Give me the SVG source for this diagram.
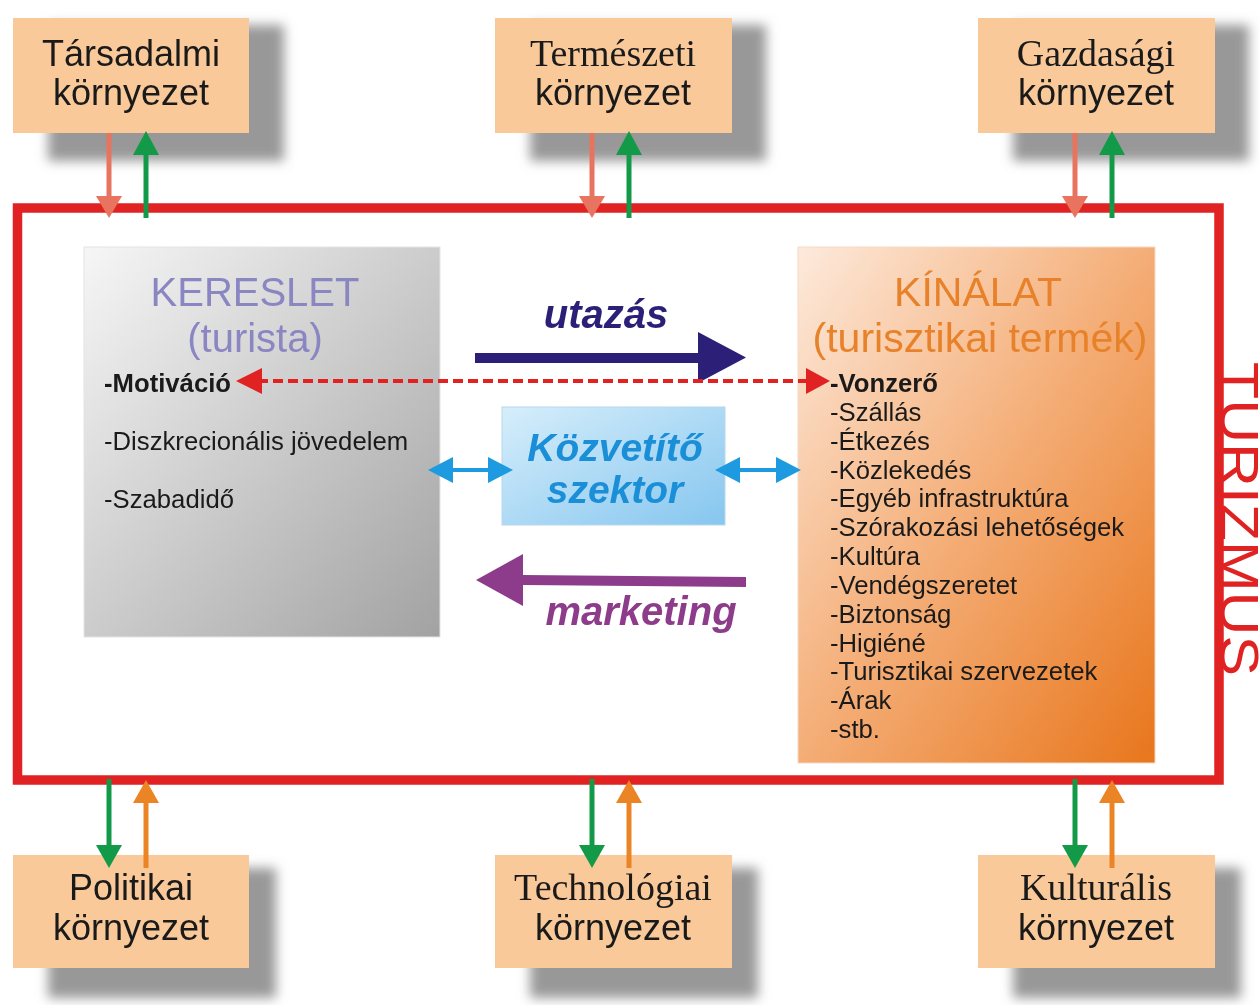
<svg xmlns="http://www.w3.org/2000/svg" width="1259" height="1005" viewBox="0 0 1259 1005">
<defs>
<style>
.sans{font-family:"Liberation Sans",Arial,sans-serif}
.serif{font-family:"Liberation Serif","Times New Roman",serif}
.env{fill:#f9c99a}
.envt{font-size:36px;fill:#1a1a1a;text-anchor:middle}
.serif.envt{font-size:38px}
.shadow{fill:#7e7e7e;opacity:.8}
.item{font-size:25.7px;fill:#1a1a1a}
.salmon{stroke:#e8735f;stroke-width:5;fill:none}
.salmonf{fill:#e8735f}
.green{stroke:#129a48;stroke-width:5;fill:none}
.greenf{fill:#129a48}
.orange{stroke:#ea8424;stroke-width:5;fill:none}
.orangef{fill:#ea8424}
.blue{stroke:#1e9ae0;stroke-width:4;fill:none}
.bluef{fill:#1e9ae0}
</style>
<filter id="blur" x="-20%" y="-20%" width="140%" height="140%"><feGaussianBlur stdDeviation="6"/></filter>
<linearGradient id="gGray" x1="0" y1="0" x2="1" y2="1">
<stop offset="0" stop-color="#f6f6f6"/><stop offset="1" stop-color="#a2a2a2"/>
</linearGradient>
<linearGradient id="gOrange" x1="0" y1="0" x2="1" y2="1">
<stop offset="0" stop-color="#fdeadc"/><stop offset="0.5" stop-color="#f4ad76"/><stop offset="1" stop-color="#e8761c"/>
</linearGradient>
<linearGradient id="gBlue" x1="0" y1="0" x2="1" y2="1">
<stop offset="0" stop-color="#d6eefb"/><stop offset="1" stop-color="#86c6ef"/>
</linearGradient>
</defs>
<rect width="1259" height="1005" fill="#ffffff"/>

<g id="turizmus">
<rect x="17.5" y="208" width="1201.5" height="572" fill="none" stroke="#e02222" stroke-width="9.5"/>
<text class="sans" transform="translate(1221,362) rotate(90)" font-size="53" fill="#e02222" textLength="314" lengthAdjust="spacingAndGlyphs">TURIZMUS</text>
</g>

<g id="shadows" filter="url(#blur)">
<rect class="shadow" x="48" y="25" width="236" height="136"/>
<rect class="shadow" x="530" y="25" width="236" height="136"/>
<rect class="shadow" x="1013" y="25" width="236" height="136"/>
<rect class="shadow" x="48" y="868" width="228" height="130"/>
<rect class="shadow" x="530" y="868" width="228" height="130"/>
<rect class="shadow" x="1013" y="868" width="228" height="130"/>
</g>

<g id="tarsadalmi">
<rect class="env" x="13" y="18" width="236" height="115"/>
<text class="sans envt" x="131" y="66">Társadalmi</text>
<text class="sans envt" x="131" y="105">környezet</text>
</g>
<g id="termeszeti">
<rect class="env" x="495" y="18" width="237" height="115"/>
<text class="serif envt" x="613" y="66">Természeti</text>
<text class="sans envt" x="613" y="105">környezet</text>
</g>
<g id="gazdasagi">
<rect class="env" x="978" y="18" width="237" height="115"/>
<text class="serif envt" x="1096" y="66">Gazdasági</text>
<text class="sans envt" x="1096" y="105">környezet</text>
</g>
<g id="politikai">
<rect class="env" x="13" y="855" width="236" height="113"/>
<text class="sans envt" x="131" y="900">Politikai</text>
<text class="sans envt" x="131" y="940">környezet</text>
</g>
<g id="technologiai">
<rect class="env" x="495" y="855" width="237" height="113"/>
<text class="serif envt" x="613" y="900">Technológiai</text>
<text class="sans envt" x="613" y="940">környezet</text>
</g>
<g id="kulturalis">
<rect class="env" x="978" y="855" width="237" height="113"/>
<text class="serif envt" x="1096" y="900">Kulturális</text>
<text class="sans envt" x="1096" y="940">környezet</text>
</g>

<g id="kereslet">
<rect x="84" y="247" width="356" height="390" fill="url(#gGray)" stroke="#e4e4e4" stroke-width="1"/>
<text class="sans" x="255" y="306" font-size="40" fill="#8a86c2" text-anchor="middle">KERESLET</text>
<text class="sans" x="255" y="352" font-size="40" fill="#8a86c2" text-anchor="middle">(turista)</text>
<text class="sans item" x="104" y="392" font-weight="bold">-Motiváció</text>
<text class="sans item" x="104" y="450">-Diszkrecionális jövedelem</text>
<text class="sans item" x="104" y="508">-Szabadidő</text>
</g>

<g id="kinalat">
<rect x="798" y="247" width="357" height="516" fill="url(#gOrange)" stroke="#f3d9c6" stroke-width="1"/>
<text class="sans" x="978" y="306" font-size="41" fill="#e8822a" text-anchor="middle">KÍNÁLAT</text>
<text class="sans" x="980" y="352" font-size="41" fill="#e8822a" text-anchor="middle">(turisztikai termék)</text>
<text class="sans item" x="830" y="392" font-weight="bold">-Vonzerő</text>
<text class="sans item" x="830" y="420.8">-Szállás</text>
<text class="sans item" x="830" y="449.7">-Étkezés</text>
<text class="sans item" x="830" y="478.5">-Közlekedés</text>
<text class="sans item" x="830" y="507.3">-Egyéb infrastruktúra</text>
<text class="sans item" x="830" y="536.2">-Szórakozási lehetőségek</text>
<text class="sans item" x="830" y="565">-Kultúra</text>
<text class="sans item" x="830" y="593.8">-Vendégszeretet</text>
<text class="sans item" x="830" y="622.7">-Biztonság</text>
<text class="sans item" x="830" y="651.5">-Higiéné</text>
<text class="sans item" x="830" y="680.3">-Turisztikai szervezetek</text>
<text class="sans item" x="830" y="709.2">-Árak</text>
<text class="sans item" x="830" y="738">-stb.</text>
</g>

<g id="kozvetito">
<rect x="502" y="407" width="223" height="118" fill="url(#gBlue)" stroke="#b8d8ec" stroke-width="1"/>
<text class="sans" x="615" y="461" font-size="39" font-weight="bold" font-style="italic" fill="#1a8fd8" text-anchor="middle">Közvetítő</text>
<text class="sans" x="615" y="503" font-size="39" font-weight="bold" font-style="italic" fill="#1a8fd8" text-anchor="middle">szektor</text>
</g>

<g id="labels">
<text class="sans" x="606" y="328" font-size="40" font-weight="bold" font-style="italic" fill="#2b1f78" text-anchor="middle">utazás</text>
<text class="sans" x="641" y="625" font-size="40" font-weight="bold" font-style="italic" fill="#8c3c8a" text-anchor="middle">marketing</text>
</g>

<g id="connectors">
<line class="salmon" x1="109" y1="133" x2="109" y2="198"/><polygon class="salmonf" points="96,196 122,196 109,218"/>
<line class="green" x1="146" y1="218" x2="146" y2="153"/><polygon class="greenf" points="133,155 159,155 146,131"/>
<line class="salmon" x1="592" y1="133" x2="592" y2="198"/><polygon class="salmonf" points="579,196 605,196 592,218"/>
<line class="green" x1="629" y1="218" x2="629" y2="153"/><polygon class="greenf" points="616,155 642,155 629,131"/>
<line class="salmon" x1="1075" y1="133" x2="1075" y2="198"/><polygon class="salmonf" points="1062,196 1088,196 1075,218"/>
<line class="green" x1="1112" y1="218" x2="1112" y2="153"/><polygon class="greenf" points="1099,155 1125,155 1112,131"/>
<line class="green" x1="109" y1="779" x2="109" y2="848"/><polygon class="greenf" points="96,845 122,845 109,868"/>
<line class="orange" x1="146" y1="868" x2="146" y2="800"/><polygon class="orangef" points="133,803 159,803 146,780"/>
<line class="green" x1="592" y1="779" x2="592" y2="848"/><polygon class="greenf" points="579,845 605,845 592,868"/>
<line class="orange" x1="629" y1="868" x2="629" y2="800"/><polygon class="orangef" points="616,803 642,803 629,780"/>
<line class="green" x1="1075" y1="779" x2="1075" y2="848"/><polygon class="greenf" points="1062,845 1088,845 1075,868"/>
<line class="orange" x1="1112" y1="868" x2="1112" y2="800"/><polygon class="orangef" points="1099,803 1125,803 1112,780"/>
<polygon fill="#2b1f78" points="475,353 698,353 698,332 746,357.5 698,383 698,363 475,363"/>
<polygon fill="#8c3c8a" points="746,577 746,587 523,585 523,606 476,580 523,554 523,575"/>
<line x1="258" y1="381" x2="810" y2="381" stroke="#e02222" stroke-width="4" stroke-dasharray="10,5"/>
<polygon fill="#e02222" points="236,381 262,368 262,394"/>
<polygon fill="#e02222" points="830,381 806,368 806,394"/>
<line class="blue" x1="450" y1="470" x2="490" y2="470"/>
<polygon class="bluef" points="428,470 453,457 453,483"/>
<polygon class="bluef" points="513,470 488,457 488,483"/>
<line class="blue" x1="737" y1="470" x2="778" y2="470"/>
<polygon class="bluef" points="715,470 740,457 740,483"/>
<polygon class="bluef" points="801,470 776,457 776,483"/>
</g>
</svg>
